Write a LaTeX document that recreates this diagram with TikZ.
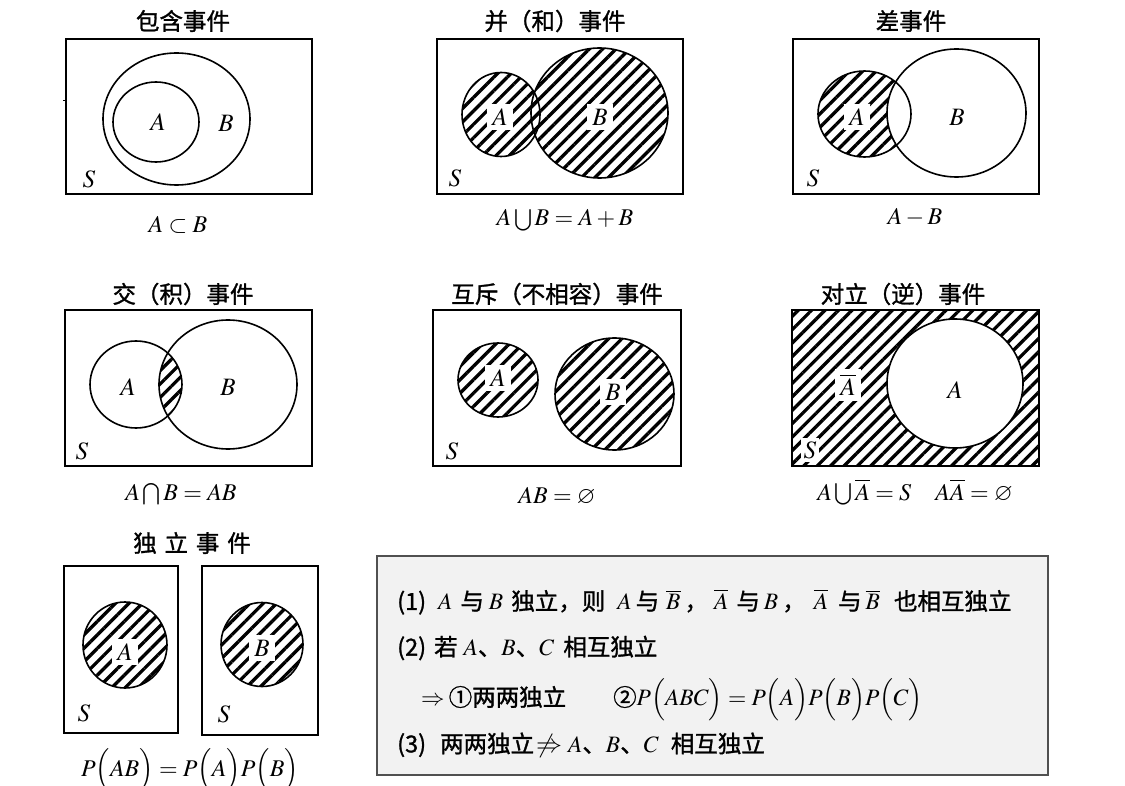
\documentclass[tikz,border=0pt]{standalone}
\usepackage{amssymb}
\usepackage{mathptmx}
\usepackage{fontspec}
\setmainfont{Liberation Serif}
\newfontfamily\cjk{Noto Sans CJK SC}[FakeBold=1.2]
\usetikzlibrary{patterns.meta}
\newcommand\mygap[1]{\hspace*{#1pt}}
\newcommand\mylp{\mathopen{\smash{\Bigl(}}}
\newcommand\myrp{\mathclose{\smash{\Bigr)}}}
\tikzset{
  frame/.style={draw, line width=1.6pt},
  ring/.style={draw, line width=1.6pt},
  hatch/.style={pattern={Lines[angle=45,distance=9.5pt,line width=3.3pt]}},
  ttl/.style={font=\cjk\fontsize{23.5}{26}\selectfont, inner sep=0pt},
  capt/.style={font=\fontsize{24}{28}\selectfont, inner sep=0pt},
  lbl/.style={font=\fontsize{25}{29}\selectfont, inner sep=2.5pt},
  wlbl/.style={lbl, fill=white, inner sep=5pt},
  line/.style={font=\fontsize{23.5}{28}\selectfont, anchor=west, inner sep=0pt},
}
\begin{document}
\begin{tikzpicture}[x=1pt,y=-1pt]
\useasboundingbox (0,0) rectangle (1125,786);

% ---------- Panel 1: inclusion ----------
\node[ttl] (t1) at (183,21) {包含事件};
\draw[frame] (66,39) rectangle (312,194);
\draw[line width=1pt] (63,101) -- (66,101);
\draw[ring] (176.5,119) ellipse [x radius=73.5pt, y radius=66pt];
\draw[ring] (156,122) ellipse [x radius=43pt, y radius=40pt];
\node[lbl] (a1) at (158,122) {$A$};
\node[lbl] (b1) at (226,123) {$B$};
\node[lbl] (s1) at (89,179) {$S$};
\node[capt] (c1) at (178,225) {$A\subset B$};

% ---------- Panel 2: union ----------
\node[ttl] (t2) at (555,21) {并（和）事件};
\draw[frame] (437,39) rectangle (683,194);
\fill[hatch] (501,114.5) ellipse [x radius=39pt, y radius=42pt];
\fill[hatch] (599.5,113) ellipse [x radius=68.5pt, y radius=65pt];
\draw[ring] (501,114.5) ellipse [x radius=39pt, y radius=42pt];
\draw[ring] (599.5,113) ellipse [x radius=68.5pt, y radius=65pt];
\node[wlbl] (a2) at (500,117) {$A$};
\node[wlbl] (b2) at (600,117) {$B$};
\node[lbl] (s2) at (455,178) {$S$};
\node[capt] (c2) at (565,220) {$A\bigcup B=A+B$};

% ---------- Panel 3: difference ----------
\node[ttl] (t3) at (911,21) {差事件};
\draw[frame] (793,39) rectangle (1039,194);
\fill[hatch] (864.5,114) ellipse [x radius=46.5pt, y radius=43pt];
\fill[white] (956.5,113) ellipse [x radius=69.5pt, y radius=64pt];
\draw[ring] (864.5,114) ellipse [x radius=46.5pt, y radius=43pt];
\draw[ring] (956.5,113) ellipse [x radius=69.5pt, y radius=64pt];
\node[wlbl] (a3) at (857,117) {$A$};
\node[lbl] (b3) at (957,117) {$B$};
\node[lbl] (s3) at (813,178) {$S$};
\node[capt] (c3) at (915,217) {$A-B$};

% ---------- Panel 4: intersection ----------
\node[ttl] (t4) at (183,294) {交（积）事件};
\draw[frame] (65,310) rectangle (312,466);
\begin{scope}
  \clip (136,384.5) ellipse [x radius=46pt, y radius=43.5pt];
  \fill[hatch] (228,384.5) ellipse [x radius=69pt, y radius=64.5pt];
\end{scope}
\draw[ring] (136,384.5) ellipse [x radius=46pt, y radius=43.5pt];
\draw[ring] (228,384.5) ellipse [x radius=69pt, y radius=64.5pt];
\node[lbl] (a4) at (128,387) {$A$};
\node[lbl] (b4) at (228,387) {$B$};
\node[lbl] (s4) at (82,451) {$S$};
\node[capt] (c4) at (181,494) {$A\bigcap B=AB$};

% ---------- Panel 5: mutually exclusive ----------
\node[ttl] (t5) at (557,294) {互斥（不相容）事件};
\draw[frame] (433,310) rectangle (681,466);
\fill[hatch] (498,380) ellipse [x radius=40pt, y radius=37pt];
\fill[hatch] (614.5,394) ellipse [x radius=59.5pt, y radius=56pt];
\draw[ring] (498,380) ellipse [x radius=40pt, y radius=37pt];
\draw[ring] (614.5,394) ellipse [x radius=59.5pt, y radius=56pt];
\node[wlbl] (a5) at (498,378) {$A$};
\node[wlbl] (b5) at (613,392) {$B$};
\node[lbl] (s5) at (452,451) {$S$};
\node[capt] (c5) at (557,496) {$AB=\varnothing$};

% ---------- Panel 6: complement ----------
\node[ttl] (t6) at (903,294) {对立（逆）事件};
\fill[hatch] (792,310) rectangle (1039,466);
\fill[white] (955,383.5) ellipse [x radius=68pt, y radius=64.5pt];
\draw[frame] (792,310) rectangle (1039,466);
\draw[ring] (955,383.5) ellipse [x radius=68pt, y radius=64.5pt];
\node[lbl] (a6) at (955,390) {$A$};
\node[wlbl] (na6) at (848,385) {$\overline{A}$};
\node[wlbl, inner sep=3pt] (s6) at (810,450) {$S$};
\node[capt] (c6) at (915,492) {$A\bigcup\overline{A}=S\quad A\overline{A}=\varnothing$};

% ---------- Panel 7: independence ----------
\node[ttl] (t7) at (192,543) {独\,\,立\,\,事\,\,件};
\draw[frame] (64,566) rectangle (178,733);
\draw[frame] (202,566) rectangle (318,735);
\fill[hatch] (125,645) ellipse [x radius=42pt, y radius=43pt];
\fill[hatch] (262,644.5) ellipse [x radius=41pt, y radius=42pt];
\draw[ring] (125,645) ellipse [x radius=42pt, y radius=43pt];
\draw[ring] (262,644.5) ellipse [x radius=41pt, y radius=42pt];
\node[wlbl] (a7) at (125,652) {$A$};
\node[wlbl] (b7) at (262,648) {$B$};
\node[lbl] (s7) at (84,713) {$S$};
\node[lbl] (s8) at (224,714) {$S$};
\node[capt] (c7) at (190,768) {$P\mylp AB\myrp=P\mylp A\myrp P\mylp B\myrp$};

% ---------- Property box ----------
\draw[fill={rgb,255:red,242;green,242;blue,242}, draw={rgb,255:red,80;green,80;blue,80}, line width=1.3pt] (377,556) rectangle (1048,775);
\node[line] (l1) at (397,602) {{\cjk (1)}\mygap{12}$A$\mygap{8}{\cjk 与}\mygap{5}$B$\mygap{8}{\cjk 独立，则}\mygap{12}$A$\mygap{4}{\cjk 与}\mygap{7}$\overline{B}$\mygap{4}{\cjk ，}\mygap{6}$\overline{A}$\mygap{8}{\cjk 与}\mygap{4}$B$\mygap{4}{\cjk ，}\mygap{8}$\overline{A}$\mygap{10}{\cjk 与}\mygap{4}$\overline{B}$\mygap{14}{\cjk 也相互独立}};
\node[line] (l2) at (397,648) {{\cjk (2)}\mygap{8}{\cjk 若}\mygap{6}$A${\cjk 、}$B${\cjk 、}$C$\mygap{9}{\cjk 相互独立}};
\node[line] (l3) at (421,697) {$\Rightarrow$\mygap{4}{\cjk ①两两独立}\mygap{47}{\cjk ②}$P\mylp ABC\myrp=P\mylp A\myrp P\mylp B\myrp P\mylp C\myrp$};
\node[line] (l4) at (397,745) {{\cjk (3)}\mygap{14}{\cjk 两两独立}\mygap{2}{\fontsize{26}{30}\selectfont$\not\Rightarrow$}\mygap{6}$A${\cjk 、}$B${\cjk 、}$C$\mygap{12}{\cjk 相互独立}};
\end{tikzpicture}
\end{document}
